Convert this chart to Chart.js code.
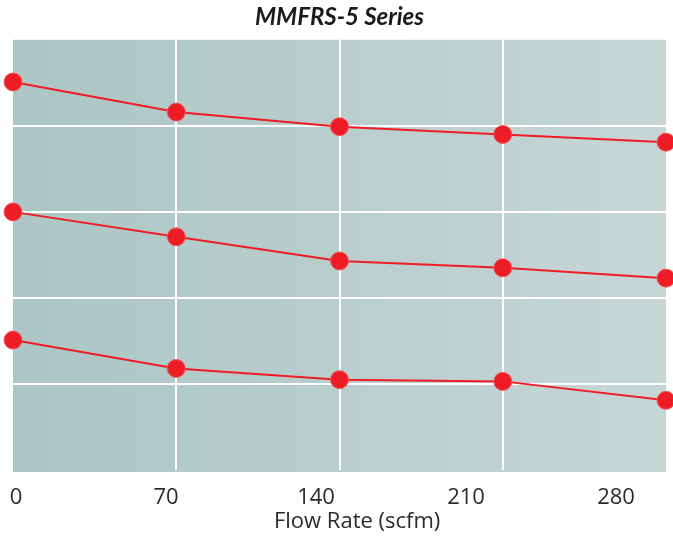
<!DOCTYPE html>
<html>
<head>
<meta charset="utf-8">
<script src="https://cdn.jsdelivr.net/npm/chart.js@4.4.1/dist/chart.umd.min.js"></script>
<style>
html,body{margin:0;padding:0;background:#fff;}
#wrap{width:673px;height:537px;position:relative;}
</style>
</head>
<body>
<div id="wrap"><canvas id="c" width="673" height="537"></canvas></div>
<script>
const flowRates = ['0', '70', '140', '210', '280'];
const tickValues = [0, 70, 140, 210, 280];
const tickLabels = ['0', '70', '140', '210', '280'];
const seriesTop = [4.51, 4.16, 3.99, 3.90, 3.81];
const seriesMiddle = [3.00, 2.71, 2.43, 2.35, 2.23];
const seriesBottom = [1.51, 1.18, 1.05, 1.03, 0.81];
const xAxisTitle = 'Flow Rate (scfm)';

const RED = '#ee1d25';
const TEXT = '#2b2b2b';

const bgPlugin = {
  id: 'bgGradient',
  beforeDraw(chart) {
    const {ctx, chartArea: a} = chart;
    const g = ctx.createLinearGradient(a.left, 0, a.right, 0);
    g.addColorStop(0, 'rgb(171,198,197)');
    g.addColorStop(1, 'rgb(198,214,213)');
    ctx.save();
    ctx.fillStyle = g;
    ctx.fillRect(a.left, a.top, a.right - a.left, a.bottom - a.top + 2);
    ctx.restore();
  }
};

const axisTitlePlugin = {
  id: 'axisTitle',
  afterDraw(chart) {
    const {ctx, chartArea: a} = chart;
    ctx.save();
    ctx.font = '22px "Open Sans"';
    ctx.fillStyle = TEXT;
    ctx.textAlign = 'center';
    ctx.textBaseline = 'middle';
    ctx.fillText(xAxisTitle, a.left + (a.right - a.left) * 0.527, a.bottom + 52);
    ctx.restore();
  }
};

function ds(data) {
  return {
    data: data,
    borderColor: RED,
    borderWidth: 2,
    backgroundColor: RED,
    pointBackgroundColor: RED,
    pointBorderColor: '#f2545a',
    pointBorderWidth: 1,
    pointRadius: 9,
    tension: 0,
    clip: false
  };
}

new Chart(document.getElementById('c'), {
  type: 'line',
  data: {
    labels: flowRates,
    datasets: [ds(seriesTop), ds(seriesMiddle), ds(seriesBottom)]
  },
  options: {
    responsive: false,
    animation: false,
    events: [],
    layout: { autoPadding: false, padding: { left: 13, right: 7, top: 1, bottom: 3 } },
    plugins: {
      legend: { display: false },
      tooltip: { enabled: false },
      title: {
        display: true,
        text: 'MMFRS-5 Series',
        color: '#1a1a1a',
        font: { family: 'Lato', size: 24, weight: 'bold', style: 'italic', lineHeight: 1.2 },
        padding: { top: 2, bottom: 8 }
      }
    },
    scales: {
      x: {
        type: 'category',
        position: 'bottom',
        weight: 0,
        offset: false,
        grid: {
          drawTicks: false,
          lineWidth: 2,
          color: (c) => (c.index === 0 || c.index === flowRates.length - 1) ? 'rgba(0,0,0,0)' : '#ffffff'
        },
        border: { display: false },
        ticks: { display: false },
        afterFit: (a) => { a.height = 0; a.paddingLeft = 0; a.paddingRight = 0; }
      },
      xl: {
        type: 'linear',
        position: 'bottom',
        weight: 1,
        min: -1.4,
        max: 303.3,
        afterBuildTicks: (axis) => { axis.ticks = tickValues.map(v => ({ value: v })); },
        afterFit: (a) => { a.height = 64; a.paddingLeft = 0; a.paddingRight = 0; },
        grid: { display: false, drawTicks: false },
        border: { display: false },
        ticks: {
          padding: 15,
          color: TEXT,
          font: { family: 'Open Sans', size: 22, lineHeight: 1.2 },
          maxRotation: 0,
          autoSkip: false,
          callback: (v, i) => tickLabels[i]
        },
        title: { display: false }
      },
      y: {
        display: true,
        min: 0,
        max: 5,
        grid: {
          drawTicks: false,
          lineWidth: 2,
          color: (c) => (c.tick.value === 0 || c.tick.value === 5) ? 'rgba(0,0,0,0)' : '#ffffff'
        },
        border: { display: false },
        ticks: { display: false, stepSize: 1 },
        afterFit: (a) => { a.width = 0; a.paddingTop = 0; a.paddingBottom = 0; }
      }
    }
  },
  plugins: [bgPlugin, axisTitlePlugin]
});
</script>
</body>
</html>
